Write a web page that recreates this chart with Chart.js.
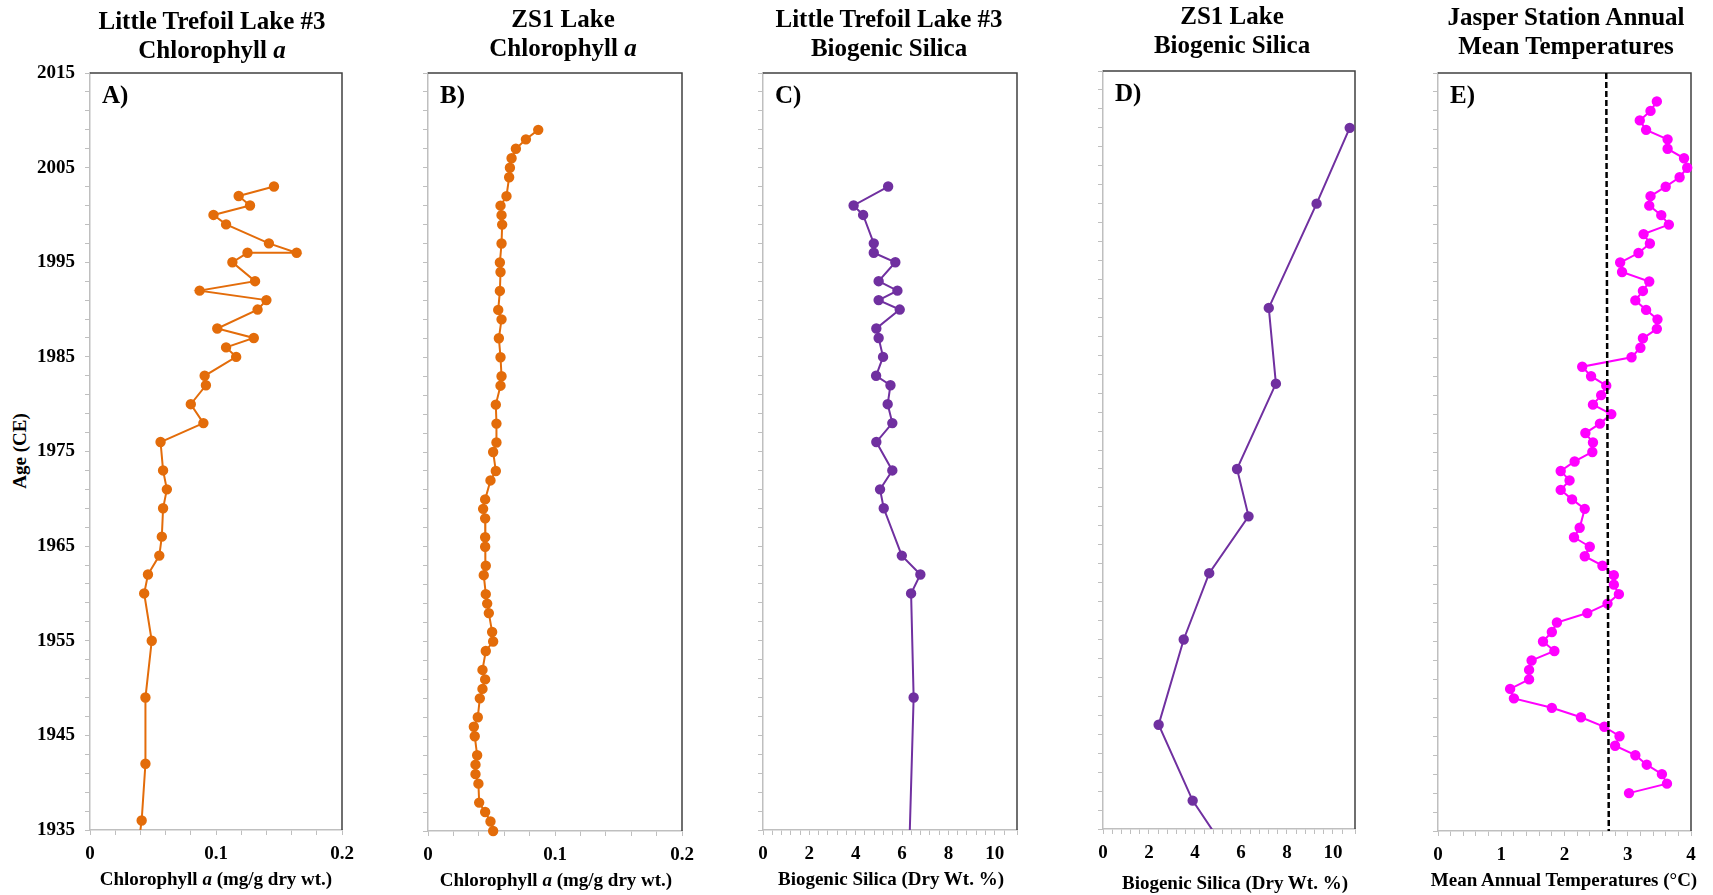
<!DOCTYPE html>
<html>
<head>
<meta charset="utf-8">
<script src="https://cdn.jsdelivr.net/npm/chart.js@4.4.1/dist/chart.umd.min.js"></script>
<style>
  body { margin: 0; background: #fff; }
  #wrap { position: relative; width: 1713px; height: 895px; overflow: hidden; font-family: "Liberation Serif", "Times New Roman", serif; font-weight: bold; color: #000; }
  canvas { position: absolute; }
  .title { position: absolute; width: 400px; text-align: center; font-size: 25px; line-height: 29px; white-space: nowrap; }
  .xtitle { position: absolute; width: 400px; text-align: center; font-size: 19px; line-height: 22px; white-space: nowrap; }
  .ytitle { position: absolute; width: 200px; text-align: center; font-size: 19px; line-height: 22px; transform: rotate(-90deg); }
</style>
</head>
<body>
<div id="wrap">
  <div class="ytitle" style="left:-80px; top:440px">Age (CE)</div>
</div>
<script>
// A) Little Trefoil Lake #3 chlorophyll a (last point lies below the axis, line runs off)
const ltChlYears = [2003, 2002, 2001, 2000, 1999, 1997, 1996, 1996, 1995, 1993, 1992, 1991, 1990, 1988, 1987, 1986, 1985, 1983, 1982, 1980, 1978, 1976, 1973, 1971, 1969, 1966, 1964, 1962, 1960, 1955, 1949, 1942, 1936, 1934]
const ltChl = [0.146, 0.118, 0.127, 0.098, 0.108, 0.142, 0.164, 0.125, 0.113, 0.131, 0.087, 0.140, 0.133, 0.101, 0.130, 0.108, 0.116, 0.091, 0.092, 0.080, 0.090, 0.056, 0.058, 0.061, 0.058, 0.057, 0.055, 0.046, 0.043, 0.049, 0.044, 0.044, 0.041, 0.039]

// B) ZS1 Lake chlorophyll a
const zsChlYears = [2009, 2008, 2007, 2006, 2005, 2004, 2002, 2001, 2000, 1999, 1997, 1995, 1994, 1992, 1990, 1989, 1987, 1985, 1983, 1982, 1980, 1978, 1976, 1975, 1973, 1972, 1970, 1969, 1968, 1966, 1965, 1963, 1962, 1960, 1959, 1958, 1956, 1955, 1954, 1952, 1951, 1950, 1949, 1947, 1946, 1945, 1943, 1942, 1941, 1940, 1938, 1937, 1936, 1935]
const zsChl = [0.0868, 0.0771, 0.0692, 0.0658, 0.0645, 0.0639, 0.0618, 0.0571, 0.0579, 0.0584, 0.0579, 0.0566, 0.0571, 0.0566, 0.0553, 0.0579, 0.0558, 0.0571, 0.0579, 0.0571, 0.0534, 0.0539, 0.0539, 0.0513, 0.0534, 0.0492, 0.0450, 0.0434, 0.0450, 0.0450, 0.0450, 0.0455, 0.0439, 0.0455, 0.0466, 0.0479, 0.0505, 0.0513, 0.0455, 0.0429, 0.0450, 0.0429, 0.0408, 0.0392, 0.0361, 0.0368, 0.0387, 0.0374, 0.0374, 0.0397, 0.0403, 0.0450, 0.0492, 0.0513]

// C) Little Trefoil Lake #3 biogenic silica
const ltBsiYears = [2003, 2001, 2000, 1997, 1996, 1995, 1993, 1992, 1991, 1990, 1988, 1987, 1985, 1983, 1982, 1980, 1978, 1976, 1973, 1971, 1969, 1964, 1962, 1960, 1949, 1932]
const ltBsi = [5.40, 3.91, 4.32, 4.78, 4.78, 5.71, 4.99, 5.80, 4.99, 5.90, 4.89, 4.99, 5.18, 4.88, 5.50, 5.38, 5.58, 4.89, 5.58, 5.05, 5.21, 5.99, 6.79, 6.39, 6.50, 6.30]

// D) ZS1 Lake biogenic silica
const zsBsiYears = [2009, 2001, 1990, 1982, 1973, 1968, 1962, 1955, 1946, 1938, 1933]
const zsBsi = [10.73, 9.29, 7.21, 7.52, 5.83, 6.33, 4.62, 3.51, 2.42, 3.90, 5.28]

// E) Jasper station annual mean temperature
const jasperYears = [2012, 2011, 2010, 2009, 2008, 2007, 2006, 2005, 2004, 2003, 2002, 2001, 2000, 1999, 1998, 1997, 1996, 1995, 1994, 1993, 1992, 1991, 1990, 1989, 1988, 1987, 1986, 1985, 1984, 1983, 1982, 1981, 1980, 1979, 1978, 1977, 1976, 1975, 1974, 1973, 1972, 1971, 1970, 1969, 1967, 1966, 1965, 1964, 1963, 1962, 1961, 1960, 1959, 1958, 1957, 1956, 1955, 1954, 1953, 1952, 1951, 1950, 1949, 1948, 1947, 1946, 1945, 1944, 1943, 1942, 1941, 1940, 1939]
const jasperTemp = [3.46, 3.36, 3.19, 3.29, 3.63, 3.63, 3.89, 3.94, 3.82, 3.60, 3.36, 3.34, 3.53, 3.65, 3.25, 3.35, 3.17, 2.88, 2.91, 3.34, 3.24, 3.12, 3.29, 3.47, 3.46, 3.24, 3.20, 3.06, 2.28, 2.42, 2.66, 2.58, 2.45, 2.74, 2.56, 2.33, 2.45, 2.44, 2.16, 1.94, 2.08, 1.94, 2.12, 2.32, 2.24, 2.15, 2.40, 2.32, 2.60, 2.78, 2.78, 2.86, 2.68, 2.36, 1.88, 1.80, 1.66, 1.84, 1.48, 1.44, 1.44, 1.14, 1.20, 1.80, 2.26, 2.63, 2.87, 2.80, 3.12, 3.30, 3.54, 3.62, 3.02]
const meanYears = [2015, 1935]
const meanTemp = [2.66, 2.70]

// axis ranges
const yearMin = 1935
const yearMax = 2015
const yearLabelStep = 10

const orange = "#e36c0a"
const purple = "#7030a0"
const magenta = "#ff00ff"

const wrap = document.getElementById("wrap")

// plot frame (dark top/right edges) and panel letter
const framePlugin = {
  id: "frame",
  beforeDatasetsDraw(chart, args, opts) {
    const { ctx, chartArea: a } = chart
    ctx.save()
    ctx.strokeStyle = "#404040"
    ctx.lineWidth = 1.5
    ctx.beginPath()
    ctx.moveTo(a.left, a.top)
    ctx.lineTo(a.right, a.top)
    ctx.lineTo(a.right, a.bottom)
    ctx.stroke()
    ctx.fillStyle = "#000"
    ctx.font = 'bold 25px "Liberation Serif"'
    ctx.textBaseline = "alphabetic"
    ctx.fillText(opts.letter, a.left + 12, a.top + 30)
    ctx.restore()
  },
}

const toPoints = (xs, ys) => ys.map((y, i) => ({ x: xs[i], y: y }))

const tickFont = { family: "Liberation Serif", size: 19, weight: "bold" }

// keep label overhang from shrinking the plot area
const noPad = (s) => {
  s.paddingTop = 0
  s.paddingBottom = 0
  s.paddingLeft = 0
  s.paddingRight = 0
}

function makePanel(p) {
  const padTop = 14
  const padRight = 22
  const xAxisH = 45
  const canvas = document.createElement("canvas")
  canvas.width = p.axisW + (p.R - p.L) + padRight
  canvas.height = padTop + (p.B - p.T) + xAxisH
  canvas.style.left = p.L - p.axisW + "px"
  canvas.style.top = p.T - padTop + "px"
  wrap.appendChild(canvas)

  const title = document.createElement("div")
  title.className = "title"
  title.innerHTML = p.title
  title.style.left = p.titleX - 200 + "px"
  title.style.top = p.titleTop + "px"
  wrap.appendChild(title)

  const xt = document.createElement("div")
  xt.className = "xtitle"
  xt.innerHTML = p.xTitle
  xt.style.left = p.xTitleX - 200 + "px"
  xt.style.top = p.xTitleTop + "px"
  wrap.appendChild(xt)

  const datasets = p.series.map((s) => ({
    data: toPoints(s.x, s.y),
    showLine: true,
    borderColor: s.color,
    backgroundColor: s.color,
    borderWidth: s.width || 2,
    borderDash: s.dash || [],
    pointRadius: s.radius === undefined ? 4.2 : s.radius,
    pointHoverRadius: s.radius === undefined ? 4.2 : s.radius,
    clip: p.clip,
  }))

  new Chart(canvas, {
    type: "scatter",
    data: { datasets: datasets },
    options: {
      responsive: false,
      animation: false,
      devicePixelRatio: 1,
      events: [],
      layout: { padding: { top: padTop, right: padRight, left: 0, bottom: 0 } },
      scales: {
        x: {
          type: "linear",
          min: 0,
          max: p.xMax,
          grid: { drawOnChartArea: false, color: "#bfbfbf", tickLength: 5 },
          border: { color: "#bfbfbf", width: 1.5 },
          ticks: {
            stepSize: p.xStep,
            autoSkip: false,
            maxRotation: 0,
            padding: 8,
            color: "#000",
            font: tickFont,
            callback: (v) => {
              const r = v / p.xMajor
              return Math.abs(r - Math.round(r)) < 1e-6 ? String(v) : ""
            },
          },
          afterFit: (s) => {
            s.height = xAxisH
            noPad(s)
          },
        },
        y: {
          type: "linear",
          min: yearMin,
          max: yearMax,
          grid: { drawOnChartArea: false, color: "#bfbfbf", tickLength: 5 },
          border: { color: "#bfbfbf", width: 1.5 },
          ticks: {
            stepSize: 2,
            autoSkip: false,
            padding: 10,
            color: "#000",
            font: tickFont,
            callback: (v) => (p.yLabels && (v - yearMin) % yearLabelStep === 0 ? String(v) : ""),
          },
          afterFit: (s) => {
            s.width = p.axisW
            noPad(s)
          },
        },
      },
      plugins: {
        legend: { display: false },
        tooltip: { enabled: false },
        frame: { letter: p.letter },
      },
    },
    plugins: [framePlugin],
  })
}

makePanel({
  letter: "A)", L: 90, T: 73, R: 342, B: 830, axisW: 90, yLabels: true,
  xMax: 0.2, xStep: 0.02, xMajor: 0.1, clip: 0,
  title: "Little Trefoil Lake #3<br>Chlorophyll <i>a</i>", titleX: 212, titleTop: 6,
  xTitle: "Chlorophyll <i>a</i> (mg/g dry wt.)", xTitleX: 216, xTitleTop: 868,
  series: [{ x: ltChl, y: ltChlYears, color: orange }],
})

makePanel({
  letter: "B)", L: 428, T: 73, R: 682, B: 831, axisW: 20, yLabels: false,
  xMax: 0.2, xStep: 0.02, xMajor: 0.1, clip: false,
  title: "ZS1 Lake<br>Chlorophyll <i>a</i>", titleX: 563, titleTop: 4,
  xTitle: "Chlorophyll <i>a</i> (mg/g dry wt.)", xTitleX: 556, xTitleTop: 869,
  series: [{ x: zsChl, y: zsChlYears, color: orange }],
})

makePanel({
  letter: "C)", L: 763, T: 73, R: 1017, B: 830, axisW: 20, yLabels: false,
  xMax: 10.96, xStep: 0.4, xMajor: 2, clip: 0,
  title: "Little Trefoil Lake #3<br>Biogenic Silica", titleX: 889, titleTop: 4,
  xTitle: "Biogenic Silica (Dry Wt. %)", xTitleX: 891, xTitleTop: 868,
  series: [{ x: ltBsi, y: ltBsiYears, color: purple }],
})

makePanel({
  letter: "D)", L: 1103, T: 71, R: 1355, B: 829, axisW: 20, yLabels: false,
  xMax: 10.96, xStep: 0.4, xMajor: 2, clip: 0,
  title: "ZS1 Lake<br>Biogenic Silica", titleX: 1232, titleTop: 1,
  xTitle: "Biogenic Silica (Dry Wt. %)", xTitleX: 1235, xTitleTop: 872,
  series: [{ x: zsBsi, y: zsBsiYears, color: purple }],
})

makePanel({
  letter: "E)", L: 1438, T: 73, R: 1691, B: 831, axisW: 20, yLabels: false,
  xMax: 4, xStep: 0.2, xMajor: 1, clip: false,
  title: "Jasper Station Annual<br>Mean Temperatures", titleX: 1566, titleTop: 2,
  xTitle: "Mean Annual Temperatures (°C)", xTitleX: 1564, xTitleTop: 869,
  series: [
    { x: meanTemp, y: meanYears, color: "#000", width: 2.5, dash: [6, 3], radius: 0 },
    { x: jasperTemp, y: jasperYears, color: magenta },
  ],
})
</script>
</body>
</html>
